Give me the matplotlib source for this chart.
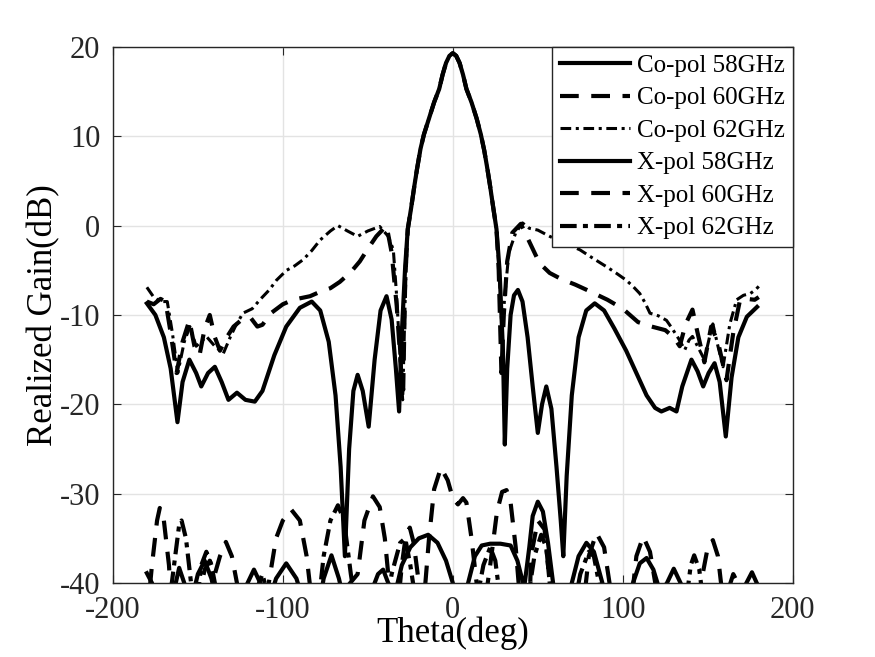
import numpy as np
import matplotlib.pyplot as plt

plt.rcParams['font.family'] = ['Liberation Serif', 'DejaVu Serif']
plt.rcParams['axes.unicode_minus'] = False

# main beam shared by the three co-pol curves
beam_theta = [-26.5, -24.5, -22.5, -21, -19, -17, -14, -11, -8, -6, -4, -2, 0, 2, 4, 6, 8, 11, 14, 16.5, 18.5, 20.3, 21.8, 23.8, 25.7]
beam_gain = [-0.4, 2.0, 4.6, 6.4, 8.6, 10.2, 12.0, 13.8, 15.3, 16.9, 18.2, 19.0, 19.3, 19.0, 18.2, 16.9, 15.3, 13.8, 12.0, 10.2, 8.4, 6.4, 4.6, 2.0, -0.4]

# Co-pol 58 GHz (solid)
co58_left_theta = [-180, -175, -170, -166, -162, -159, -155, -151, -148, -144, -140, -136, -132, -127, -122,
                   -116.5, -112, -105, -98, -90, -83, -78, -73, -69, -66, -63.5, -61, -58.5, -56, -53, -49.5,
                   -46, -42.5, -39, -36, -33.5, -31.6, -30, -28]
co58_left_gain = [-8.7, -10, -12.5, -16, -22, -17.5, -15.0, -16.5, -18.0, -16.5, -15.8, -17.5, -19.5, -18.7, -19.5,
                  -19.7, -18.5, -14.5, -11.3, -9.2, -8.5, -9.5, -13, -19, -27, -37, -25, -18.5, -16.7, -18.5, -22.5,
                  -15, -9.5, -7.9, -10.5, -16, -20.8, -12, -4.5]
co58_right_theta = [27.5, 29.5, 30.6, 32, 34, 36, 38.3, 41, 44, 47, 50, 52.5, 55, 58, 61, 63.5, 65, 67, 70, 74,
                    78.5, 83.5, 89, 95, 102, 108, 114, 119, 122.7, 127.6, 131.6, 135, 140.4, 144, 147.3, 150.5,
                    154, 157, 160.6, 164, 168, 173, 179]
co58_right_gain = [-5, -14, -24.5, -16, -10, -7.8, -7.2, -8.5, -12.5, -18, -23.2, -20, -18.0, -20.5, -27, -33, -37,
                   -28, -19, -12.5, -9.5, -8.7, -9.5, -11.5, -14, -16.5, -19.0, -20.4, -20.8, -20.4, -20.8, -18,
                   -15.0, -16.3, -18.0, -16.5, -15.4, -17.5, -23.6, -17, -12.5, -10.2, -9.1]

# Co-pol 60 GHz (dashed)
co60_left_theta = [-180, -176, -172, -169, -166, -162.5, -159, -155, -152, -149, -146, -143, -140, -137, -133,
                   -129, -124, -119, -115, -112, -107, -100, -94, -84, -78, -72, -66.5, -60, -54.7, -50, -45, -39,
                   -36, -33, -30.5, -29.2, -28]
co60_left_gain = [-8.5, -8.8, -8.2, -8.5, -12, -16.5, -13, -10.6, -13.5, -14.5, -11.5, -10.0, -12.5, -14, -12.5,
                  -11.3, -10.5, -10.3, -11.3, -11.1, -9.8, -8.8, -8.3, -7.9, -7.4, -7.0, -6.3, -5.2, -4.0, -2.6,
                  -1.2, 0.0, -3, -9, -16, -18.4, -6]
co60_right_theta = [27, 28.6, 30, 32, 35, 40, 45, 51, 57, 64, 72, 80, 91, 100, 109, 117, 125, 130, 133.5, 137,
                    141, 144, 148, 152, 156, 161, 165, 169, 173, 177.6, 180]
co60_right_gain = [-5, -16.5, -10, -4, -0.8, 0.2, -1.8, -4.2, -5.3, -6.0, -6.6, -7.3, -8.3, -9.3, -10.8, -11.3,
                   -11.7, -12.5, -13.5, -11, -9.4, -12, -15.3, -11.3, -13, -17.3, -12, -8.3, -8.2, -8.3, -8.0]

# Co-pol 62 GHz (dash-dot)
co62_left_theta = [-180, -176, -172, -168, -165, -161.8, -158, -154.7, -151, -148, -145, -140, -135, -131, -128,
                   -123.5, -118, -113.5, -108, -103.7, -97.8, -93, -88, -83, -78, -72, -67.6, -62, -56, -50, -43,
                   -38, -35, -33, -31, -29.5, -28]
co62_left_gain = [-6.9, -8.0, -8.5, -8.5, -12, -16.5, -13, -11.3, -13.5, -13, -12.4, -13.5, -14.3, -12.5, -11.3,
                  -9.8, -9.3, -8.3, -7.2, -6.1, -5.0, -4.5, -3.8, -2.8, -1.6, -0.6, 0.0, -0.6, -1.2, -0.6, -0.1,
                  -1.2, -2.7, -8, -15, -19.5, -8]
co62_right_theta = [27.5, 29, 30.5, 33, 37, 41, 45, 50, 57, 66, 74.7, 82, 90.4, 96, 102, 106, 110, 113, 116, 121,
                    125.7, 129, 133, 136.5, 139, 141, 144, 148, 151, 153, 156, 159, 163, 167, 171, 175, 178, 180]
co62_right_gain = [-6, -12, -8, -3, -0.8, 0.3, -0.3, -0.5, -1.2, -2.0, -2.7, -3.6, -4.6, -5.3, -6.1, -6.8, -7.6,
                   -8.6, -9.8, -10.1, -10.6, -11.5, -12.7, -13.9, -12.8, -12.4, -13.5, -15, -12.5, -11, -13.5,
                   -15.8, -11, -8.3, -7.8, -7.6, -7.2, -6.8]

# X-pol 58 GHz (solid)
x58_theta = [-180, -177, -174, -168, -163, -161, -158, -155, -150, -146, -142, -138, -130, -122, -117, -112,
             -108, -104, -98, -92, -88, -80, -76, -71.4, -67, -64, -55, -48, -44, -41, -38, -35, -30, -25, -20,
             -14.5, -9, -4, 0, 4, 9, 13, 17, 22, 28, 34, 38, 42, 45, 47, 50, 53, 56, 59, 62, 70, 74, 78.6, 83,
             88, 92, 100, 106, 110, 114, 118, 122, 126, 130, 134, 140, 150, 160, 170, 176, 180]
x58_gain = [-38.9, -40, -42, -44, -40, -38.3, -40, -43, -39, -37.5, -39.5, -43, -44, -40.5, -38.5, -40.5,
            -42, -39.5, -37.8, -39.5, -42, -44, -39.5, -36.9, -39.5, -42, -43, -41, -39, -38.5, -40, -42, -38, -36,
            -35, -34.6, -35.5, -37.5, -40, -44, -40, -37, -35.8, -35.6, -35.6, -35.8, -37.5, -40.5, -36, -32.5,
            -30.9, -32, -35.5, -40, -44, -40, -37, -35.5, -36.5, -40, -44, -44, -40, -37.8, -37.2, -38.5, -41,
            -40, -38.4, -40, -43, -42, -44, -41, -38.8, -40.5]

# X-pol 60 GHz (dashed)
x60_theta = [-180, -177, -174, -172.4, -170, -167, -165, -150, -146, -143, -140, -137, -133.5, -130, -126,
             -120, -110, -104, -100, -95, -90, -86, -83, -78, -56, -52, -47, -43, -40, -37, -33, -30, -27.5,
             -25.3, -23, -20, -17, -14, -11, -7, -3, 0, 3, 6, 8, 11, 14, 17.6, 22, 26, 29, 31.6, 34, 37, 40, 45,
             46, 50, 54, 57, 60, 76, 80, 84.5, 89, 93, 96, 104, 108, 112, 116, 120, 124, 140, 146, 150, 153,
             156, 159, 162, 170, 176, 180]
x60_gain = [-44, -38, -33, -31.6, -33, -38, -44, -42, -38.5, -37.5, -39, -37, -35.4, -37, -41,
            -45, -42, -35, -33, -31.8, -33, -37, -42, -44, -39, -33, -30.3, -31.5, -35, -41, -44, -38, -34.5,
            -33.8, -35.5, -40, -42, -35, -29.5, -27.1, -28.5, -30.5, -31.2, -30.5, -31, -35, -40, -44, -38, -32,
            -29.8, -29.6, -31, -36, -43, -44, -37, -33, -34, -40, -44, -44, -37, -34.4, -36, -41, -44, -44, -37,
            -34.8, -36.5, -41, -44, -44, -40, -36, -35.2, -37, -42, -44, -44, -41, -40]

# X-pol 62 GHz (dash-dot)
x62_theta = [-180, -176, -168, -164, -161, -159.6, -157, -154, -151, -148, -145, -142, -139, -135, -120,
             -116, -112, -108, -80, -76, -72, -67.6, -64, -60, -56, -40, -36, -31, -28, -25, -21, 12, 18, 22,
             25, 28, 44, 48, 52, 55, 58, 70, 75, 80, 83, 86, 90, 136, 140, 142, 145, 148, 160, 165, 169, 175, 180]
x62_gain = [-40.5, -42, -44, -38, -33.5, -33.0, -35, -40, -43, -38, -36.5, -38, -41, -44, -44,
            -41, -39, -42, -44, -37, -33, -31.3, -33, -39, -44, -44, -39, -35.5, -35, -38, -43, -44, -38, -36,
            -37.5, -42, -42, -37, -34.6, -36, -42, -44, -39, -36.5, -37, -40, -44, -44, -38, -36.9, -38.5, -43,
            -42, -39, -40.5, -44, -41]

labels = ['Co-pol 58GHz', 'Co-pol 60GHz', 'Co-pol 62GHz', 'X-pol 58GHz', 'X-pol 60GHz', 'X-pol 62GHz']

co58_theta = co58_left_theta + beam_theta + co58_right_theta
co58_gain = co58_left_gain + beam_gain + co58_right_gain
co60_theta = co60_left_theta + beam_theta + co60_right_theta
co60_gain = co60_left_gain + beam_gain + co60_right_gain
co62_theta = co62_left_theta + beam_theta + co62_right_theta
co62_gain = co62_left_gain + beam_gain + co62_right_gain

fig = plt.figure(figsize=(8.75, 6.57), dpi=100)
ax = fig.add_axes([0.129, 0.1126, 0.777, 0.816])

dash = (4.5, 3.0)
ax.plot(co58_theta, co58_gain, color='k', lw=3, label=labels[0])
ax.plot(co60_theta, co60_gain, color='k', lw=3, dashes=dash, label=labels[1])
ax.plot(co62_theta, co62_gain, color='k', lw=2.2, dashes=(3.5, 1.5, 1, 1.5), label=labels[2])
ax.plot(x58_theta, x58_gain, color='k', lw=3, label=labels[3])
ax.plot(x60_theta, x60_gain, color='k', lw=3, dashes=dash, label=labels[4])
ax.plot(x62_theta, x62_gain, color='k', lw=3, dashes=(4, 1.5, 1.2, 1.5), label=labels[5])

ax.set_xlim(-200, 200)
ax.set_ylim(-40, 20)
ax.set_xticks([-200, -100, 0, 100, 200])
ax.set_yticks([-40, -30, -20, -10, 0, 10, 20])
ax.grid(True, color='#e3e3e3', lw=1)
ax.set_axisbelow(True)
ax.tick_params(direction='in', length=6, top=True, right=True, labelsize=22, colors='#262626', pad=9)
for s in ax.spines.values():
    s.set_color('#262626')
    s.set_linewidth(1)

ax.set_xlabel('Theta(deg)', fontsize=25, labelpad=-6)
ax.set_ylabel('Realized Gain(dB)', fontsize=25, labelpad=0)

leg = ax.legend(loc='upper right', borderaxespad=0, fontsize=18, frameon=True, fancybox=False,
                handlelength=2.8, labelspacing=0.4, handletextpad=0.3, borderpad=0.3)
leg.get_frame().set_edgecolor('#262626')
leg.get_frame().set_linewidth(1)
leg.get_frame().set_alpha(1)

fig.savefig('out.png', dpi=100)
